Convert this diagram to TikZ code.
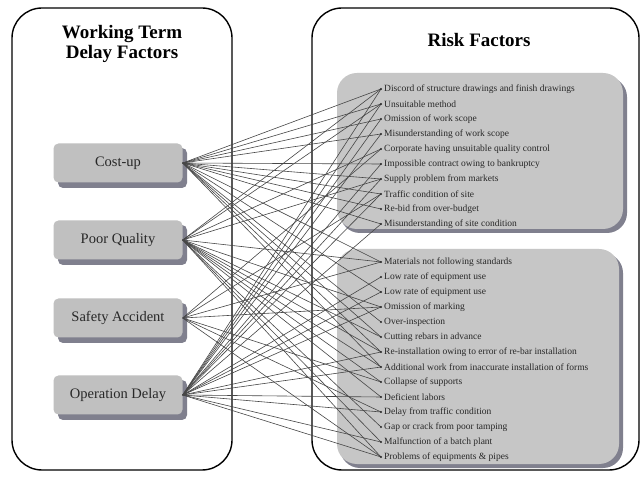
\documentclass[tikz,border=0pt]{standalone}
\usepackage{fontspec}
\setmainfont{Liberation Serif}
\begin{document}
\begin{tikzpicture}[x=1pt,y=-1pt,
  outerbox/.style={draw=black,line width=1.4pt,rounded corners=30pt},
  panel/.style={fill=panelgray,rounded corners=20pt},
  panelshadow/.style={fill=shadowgray,rounded corners=20pt},
  factor/.style={fill=boxgray,rounded corners=5pt,minimum width=129pt,minimum height=39pt,inner sep=0pt,font=\fontsize{14.5}{16}\selectfont,text=textgray},
  fshadow/.style={fill=shadowgray,rounded corners=5pt},
  item/.style={anchor=west,inner sep=0pt,font=\fontsize{9.5}{11}\selectfont,text=textgray},
  title/.style={font=\fontsize{19}{22}\selectfont\bfseries,align=center},
  link/.style={draw=linegray,line width=0.6pt},
  dotb/.style={fill=textgray}
]
\definecolor{panelgray}{RGB}{198,198,198}
\definecolor{boxgray}{RGB}{192,192,192}
\definecolor{shadowgray}{RGB}{128,128,142}
\definecolor{textgray}{RGB}{40,40,40}
\definecolor{linegray}{RGB}{70,70,70}
\useasboundingbox (0,0) rectangle (643,478);
\fill[white] (0,0) rectangle (643,478);

% outer boxes
\draw[outerbox] (12,8) rectangle (232,470);
\draw[outerbox] (312,8) rectangle (639,470);

\node[title] (tl) at (122,44) {Working Term\\[-2pt]Delay Factors};
\node[title] (tr) at (479,40) {Risk Factors};

% panels
\fill[panelshadow] (340,77) rectangle (627,233);
\fill[panel] (337,73) rectangle (623,229);
\fill[panelshadow] (340,253) rectangle (623,468);
\fill[panel] (337,249) rectangle (619,464);

% factor boxes
\foreach \n/\y/\t in {c/163/Cost-up, p/240/Poor Quality, s/318/Safety Accident, o/395/Operation Delay}{
  \fill[fshadow] (58,\y-15) rectangle (187,\y+25);
  \node[factor] (\n) at (118,\y) {\t};
}

% risk items
\foreach \i/\t in {1/Discord of structure drawings and finish drawings,
  2/Unsuitable method,
  3/Omission of work scope,
  4/Misunderstanding of work scope,
  5/Corporate having unsuitable quality control,
  6/Impossible contract owing to bankruptcy,
  7/Supply problem from markets,
  8/Traffic condition of site,
  9/Re-bid from over-budget,
  10/Misunderstanding of site condition}{
  \coordinate (b\i) at (381,{89+15*(\i-1)});
  \node[item] (r\i) at (384,{89+15*(\i-1)}) {\t};
}
\foreach \i/\t in {11/Materials not following standards,
  12/Low rate of equipment use,
  13/Low rate of equipment use,
  14/Omission of marking,
  15/Over-inspection,
  16/Cutting rebars in advance,
  17/Re-installation owing to error of re-bar installation,
  18/Additional work from inaccurate installation of forms,
  19/Collapse of supports,
  20/Deficient labors,
  21/Delay from traffic condition,
  22/Gap or crack from poor tamping,
  23/Malfunction of a batch plant,
  24/Problems of equipments \& pipes}{
  \coordinate (b\i) at (381,{262+15*(\i-11)});
  \node[item] (r\i) at (384,{262+15*(\i-11)}) {\t};
}

% links
\foreach \f/\list in {c/{1,2,3,4,6,7,8,9,10,11,13,15,16,17,18},
                      p/{1,2,5,7,11,14,16,17,18,19,20,22,23,24},
                      s/{5,8,11,14,19,21,24},
                      o/{1,2,3,4,6,7,8,10,12,13,14,17,18,20,21,23,24}}{
  \foreach \k in \list {
    \draw[link] (\f.east) -- (b\k);
  }
}
\foreach \i in {1,...,24}{\fill[dotb] (b\i) circle (1.1pt);}
\end{tikzpicture}
\end{document}
